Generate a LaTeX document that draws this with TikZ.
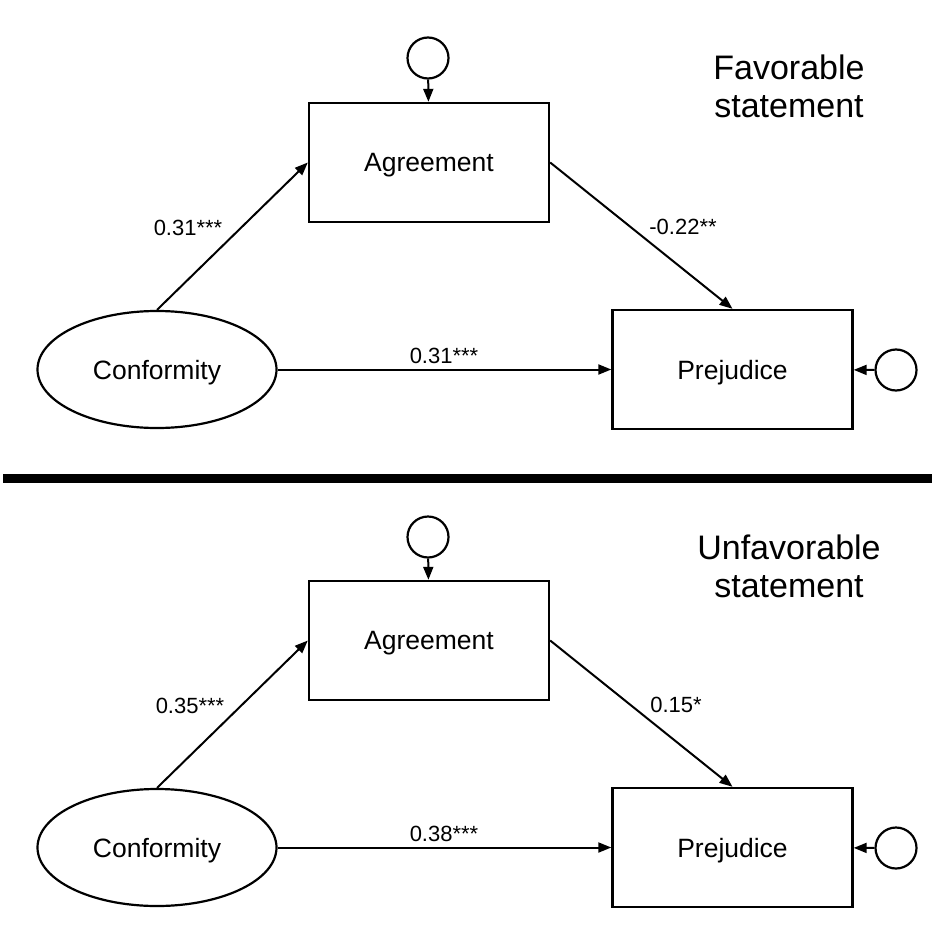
\documentclass[tikz,border=0pt]{standalone}
\usepackage{fontspec}
\setmainfont{Liberation Sans}
\usetikzlibrary{shapes.geometric,arrows.meta}
\tikzset{
  box/.style={draw, line width=2.4pt, rectangle, minimum width=240pt, minimum height=119pt, inner sep=0pt, text depth=0pt, font=\fontsize{26.5}{32}\selectfont},
  latent/.style={draw, line width=2.2pt, ellipse, minimum width=239pt, minimum height=117pt, inner sep=0pt, text depth=0pt, font=\fontsize{26.5}{32}\selectfont},
  err/.style={draw, line width=2.2pt, circle, minimum size=41pt, inner sep=0pt},
  path/.style={line width=2pt, -{Triangle[length=13pt,width=10pt]}},
  coef/.style={font=\fontsize{22}{26}\selectfont, inner sep=0pt},
  title/.style={font=\fontsize{34}{38}\selectfont, align=center, inner sep=0pt},
}
\begin{document}
\begin{tikzpicture}[x=1pt,y=-1pt]
\useasboundingbox (0,0) rectangle (932,939);
% ---------- top panel ----------
\node[box] (agr1) at (429,162.5) {Agreement};
\node[box] (pre1) at (732.5,369.5) {Prejudice};
\node[latent] (con1) at (157,369.5) {Conformity};
\node[err] (ea1) at (428,58) {};
\node[err] (ep1) at (896,370) {};
\draw[path] (ea1) -- (agr1);
\draw[path] (ep1) -- (pre1);
\draw[path] (con1.north) -- (agr1.west);
\draw[path] (agr1.east) -- (pre1.north);
\draw[path] (con1) -- (pre1);
\node[coef] (c11) at (188,228) {0.31***};
\node[coef] (c12) at (683,227) {-0.22**};
\node[coef] (c13) at (444,356) {0.31***};
\node[title] (t1) at (789,86) {Favorable\\statement};
% ---------- separator ----------
\fill (3,474) rectangle (932,483);
% ---------- bottom panel ----------
\node[box] (agr2) at (429,640.5) {Agreement};
\node[box] (pre2) at (732.5,847.5) {Prejudice};
\node[latent] (con2) at (157,847.5) {Conformity};
\node[err] (ea2) at (428,537) {};
\node[err] (ep2) at (896,848) {};
\draw[path] (ea2) -- (agr2);
\draw[path] (ep2) -- (pre2);
\draw[path] (con2.north) -- (agr2.west);
\draw[path] (agr2.east) -- (pre2.north);
\draw[path] (con2) -- (pre2);
\node[coef] (c21) at (190,706) {0.35***};
\node[coef] (c22) at (676,705) {0.15*};
\node[coef] (c23) at (444,834) {0.38***};
\node[title] (t2) at (789,566) {Unfavorable\\statement};
\end{tikzpicture}
\end{document}
